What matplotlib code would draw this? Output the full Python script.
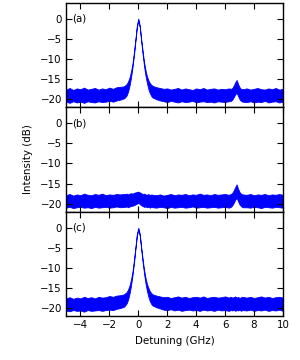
import matplotlib
matplotlib.use("Agg")
import matplotlib.pyplot as plt

# detuning grid (GHz)
freq = [-5.0, -4.75, -4.5, -4.25, -4.0, -3.75, -3.5, -3.25, -3.0, -2.75, -2.5, -2.25, -2.0, -1.75, -1.5, -1.25, -1.0,
        -0.9, -0.8, -0.7, -0.6, -0.5, -0.4, -0.3, -0.2, -0.1, 0.0, 0.1, 0.2, 0.3, 0.4, 0.5, 0.6, 0.7, 0.8, 0.9, 1.0,
        1.25, 1.5, 1.75, 2.0, 2.25, 2.5, 2.75, 3.0, 3.25, 3.5, 3.75, 4.0, 4.25, 4.5, 4.75, 5.0, 5.25, 5.5, 5.75, 6.0, 6.25,
        6.4, 6.5, 6.6, 6.7, 6.8, 6.9, 7.0, 7.1, 7.2,
        7.5, 7.75, 8.0, 8.25, 8.5, 8.75, 9.0, 9.25, 9.5, 9.75, 10.0]

# upper / lower edge of the noisy trace (dB)
a_upper = [-17.6, -17.2, -17.7, -17.3, -17.5, -17.1, -17.6, -17.4, -17.2, -17.6, -17.3, -17.5, -17.1, -17.4, -17.0, -16.9, -16.8,
           -16.5, -16.2, -15.5, -14.5, -13.0, -11.0, -8.2, -5.0, -1.6, 0.1, -1.6, -5.0, -8.0, -10.8, -12.8, -14.3, -15.3, -16.0, -16.4, -16.7,
           -17.0, -17.2, -17.4, -17.3, -17.6, -17.4, -17.2, -17.6, -17.3, -17.5, -17.7, -17.3, -17.5, -17.2, -17.6, -17.4, -17.3, -17.6, -17.4, -17.5, -17.3,
           -17.4, -17.2, -16.6, -15.8, -15.2, -16.2, -17.0, -17.4, -17.5,
           -17.3, -17.6, -17.4, -17.2, -17.5, -17.6, -17.3, -17.5, -17.2, -17.6, -17.4]
a_lower = [-20.6, -20.9, -20.5, -20.8, -20.6, -20.9, -20.5, -20.7, -20.8, -20.5, -20.7, -20.6, -20.4, -20.6, -20.3, -20.1, -19.8,
           -19.5, -19.0, -18.0, -16.5, -14.5, -12.0, -9.0, -5.6, -2.1, -0.4, -2.1, -5.6, -8.8, -11.8, -14.2, -16.0, -17.5, -18.5, -19.2, -19.6,
           -20.0, -20.3, -20.5, -20.7, -20.4, -20.6, -20.8, -20.5, -20.7, -20.6, -20.4, -20.8, -20.6, -20.5, -20.7, -20.6, -20.8, -20.5, -20.6, -20.7, -20.5,
           -20.4, -20.1, -19.5, -18.8, -18.4, -19.2, -20.0, -20.4, -20.6,
           -20.7, -20.5, -20.8, -20.6, -20.7, -20.4, -20.8, -20.6, -20.5, -20.8, -20.6]

b_upper = [-17.9, -17.6, -18.0, -17.7, -17.9, -17.5, -17.8, -17.9, -17.6, -17.8, -17.5, -17.9, -17.7, -17.8, -17.6, -17.7, -17.6,
           -17.6, -17.5, -17.7, -17.5, -17.4, -17.5, -17.3, -17.2, -17.1, -17.0, -17.2, -17.4, -17.6, -17.5, -17.7, -17.8, -17.6, -17.9, -17.7, -17.8,
           -17.9, -17.7, -18.0, -17.8, -17.6, -17.9, -17.7, -17.8, -17.6, -17.9, -17.7, -17.8, -17.5, -17.8, -17.7, -17.9, -17.6, -17.8, -17.7, -17.6, -17.8,
           -17.6, -17.3, -16.7, -15.9, -15.2, -16.3, -17.1, -17.5, -17.7,
           -17.8, -17.6, -17.9, -17.7, -17.8, -17.6, -17.9, -17.7, -17.8, -17.6, -17.8]
b_lower = [-21.0, -20.8, -21.1, -20.9, -20.8, -21.0, -20.9, -21.1, -20.8, -21.0, -20.9, -20.8, -21.0, -20.9, -20.7, -20.9, -20.8,
           -20.8, -20.7, -20.9, -20.7, -20.6, -20.5, -20.4, -20.2, -20.0, -19.8, -20.1, -20.4, -20.6, -20.8, -20.7, -20.9, -20.8, -21.0, -20.8, -20.9,
           -21.0, -20.8, -20.9, -21.1, -20.8, -21.0, -20.9, -20.8, -21.0, -20.9, -20.7, -21.0, -20.9, -20.8, -21.0, -20.9, -20.8, -21.0, -20.9, -20.8, -21.0,
           -20.8, -20.4, -19.8, -19.0, -18.6, -19.4, -20.2, -20.6, -20.9,
           -20.9, -21.0, -20.8, -20.9, -21.1, -20.8, -20.9, -21.0, -20.8, -20.9, -21.0]

c_upper = [-17.6, -17.3, -17.7, -17.4, -17.6, -17.2, -17.5, -17.3, -17.6, -17.2, -17.4, -17.3, -17.0, -17.2, -16.9, -16.8, -16.6,
           -16.3, -16.0, -15.3, -14.3, -12.8, -10.8, -8.0, -4.8, -1.5, 0.0, -1.5, -4.8, -7.8, -10.5, -12.5, -14.0, -15.0, -15.8, -16.3, -16.6,
           -16.9, -17.1, -17.3, -17.2, -17.5, -17.3, -17.1, -17.4, -17.2, -17.5, -17.3, -17.2, -17.4, -17.1, -17.5, -17.3, -17.2, -17.4, -17.3, -17.1, -17.4,
           -17.2, -17.4, -17.3, -17.1, -17.4, -17.2, -17.5, -17.3, -17.2,
           -17.4, -17.2, -17.5, -17.3, -17.1, -17.4, -17.2, -17.5, -17.3, -17.2, -17.4]
c_lower = [-20.6, -20.8, -20.5, -20.7, -20.6, -20.9, -20.5, -20.7, -20.6, -20.5, -20.7, -20.5, -20.4, -20.5, -20.2, -20.0, -19.7,
           -19.3, -18.8, -17.8, -16.3, -14.3, -11.8, -8.8, -5.4, -2.0, -0.5, -2.0, -5.4, -8.6, -11.5, -13.9, -15.8, -17.2, -18.3, -19.0, -19.4,
           -19.8, -20.1, -20.4, -20.5, -20.3, -20.6, -20.4, -20.7, -20.5, -20.4, -20.6, -20.5, -20.7, -20.4, -20.6, -20.5, -20.7, -20.4, -20.6, -20.5, -20.7,
           -20.5, -20.6, -20.4, -20.7, -20.5, -20.6, -20.4, -20.7, -20.5,
           -20.6, -20.4, -20.7, -20.5, -20.6, -20.4, -20.7, -20.5, -20.6, -20.4, -20.7]

panel_labels = ['(a)', '(b)', '(c)']
y_ticks = [0, -5, -10, -15, -20]
x_ticks = [-4, -2, 0, 2, 4, 6, 8, 10]

fs = 7.4
fig, axes = plt.subplots(3, 1, figsize=(3.0, 3.6), dpi=100, sharex=True)
plt.subplots_adjust(left=0.22, right=0.943, top=0.992, bottom=0.122, hspace=0)

traces = [(a_lower, a_upper), (b_lower, b_upper), (c_lower, c_upper)]
for ax, (lo, up), lab in zip(axes, traces, panel_labels):
    ax.fill_between(freq, lo, up, color='#0000ff', linewidth=0.6)
    ax.set_xlim(-5, 10)
    ax.set_ylim(-22, 4)
    ax.set_yticks(y_ticks)
    ax.set_xticks(x_ticks)
    ax.tick_params(direction='in', top=True, right=True, labelsize=fs, length=4, width=0.8, pad=3)
    for s in ax.spines.values():
        s.set_linewidth(1.0)
    ax.text(-4.55, 0, lab, va='center', ha='left', fontsize=fs)

axes[1].set_ylabel('Intensity (dB)', fontsize=fs, labelpad=5)
axes[2].set_xlabel('Detuning (GHz)', fontsize=fs, labelpad=4)

plt.savefig('out.png', dpi=100)
plt.close(fig)
